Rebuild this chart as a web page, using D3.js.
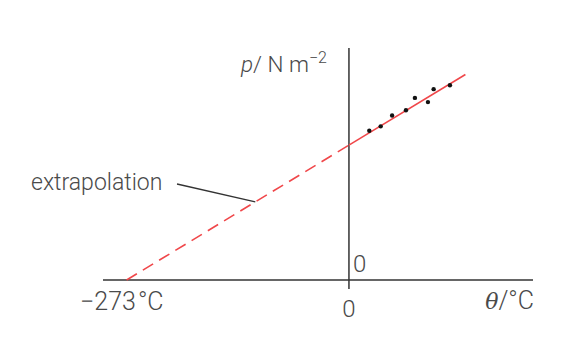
<!DOCTYPE html>
<html>
<head>
<meta charset="utf-8">
<script src="https://cdn.jsdelivr.net/npm/d3@7"></script>
<style>
  body { margin: 0; background: #fff; }
  text { font-family: Roboto, "Liberation Sans", sans-serif; font-weight: 300; fill: #4a4a4a; }
</style>
</head>
<body>
<div id="chart"></div>
<script>
// data : temperature (°C) and pressure (arbitrary units, p = 100 at 0 °C)
var theta = [25, 39, 53, 70, 81, 97, 104, 124];
var pressure = [110.6, 113.9, 122, 125.9, 135, 131.9, 141.5, 144.4];
var absZero = -273,
    p0 = 100,
    lineEnd = 143;

var width = 561,
    height = 344;

var x = d3.scaleLinear().domain([-302, 226]).range([103, 533]);
var y = d3.scaleLinear().domain([0, 172]).range([280, 48]);

function fit(t) { return p0 * (1 + t / 273); }

var svg = d3.select("#chart").append("svg")
  .attr("width", width)
  .attr("height", height);

// axes
svg.append("line")
  .attr("x1", x.range()[0]).attr("x2", x.range()[1])
  .attr("y1", y(0)).attr("y2", y(0))
  .attr("stroke", "#333").attr("stroke-width", 1.5);
svg.append("line")
  .attr("x1", x(0)).attr("x2", x(0))
  .attr("y1", y.range()[1]).attr("y2", y(0) + 9)
  .attr("stroke", "#333").attr("stroke-width", 1.5);

// extrapolated part (dashed)
svg.append("line")
  .attr("x1", x(absZero)).attr("y1", y(fit(absZero)))
  .attr("x2", x(0)).attr("y2", y(fit(0)))
  .attr("stroke", "#f0474a").attr("stroke-width", 1.6)
  .attr("stroke-dasharray", "12,7");

// measured part (solid)
svg.append("line")
  .attr("x1", x(0)).attr("y1", y(fit(0)))
  .attr("x2", x(lineEnd)).attr("y2", y(fit(lineEnd)))
  .attr("stroke", "#f0474a").attr("stroke-width", 1.6);

// points
svg.selectAll("circle")
  .data(theta).enter()
  .append("circle")
  .attr("cx", function(d) { return x(d); })
  .attr("cy", function(d, i) { return y(pressure[i]); })
  .attr("r", 2.2)
  .attr("fill", "#111");

// leader line for "extrapolation"
var tl = -115;
svg.append("line")
  .attr("x1", 177).attr("y1", 184)
  .attr("x2", x(tl)).attr("y2", y(fit(tl)))
  .attr("stroke", "#333").attr("stroke-width", 1.3);

// labels
svg.append("text").attr("x", 31).attr("y", 190)
  .style("font-size", "23px").text("extrapolation");

var zl = svg.append("text").attr("x", 80).attr("y", 310)
  .style("font-size", "25px");
zl.append("tspan").text("\u2212273");
zl.append("tspan").attr("dx", 2).text("°C");

svg.append("text").attr("x", x(0)).attr("y", 317)
  .attr("text-anchor", "middle")
  .style("font-size", "24px").text("0");

svg.append("text").attr("x", x(0) + 4).attr("y", 272)
  .style("font-size", "24px").text("0");

var xl = svg.append("text").attr("x", 534).attr("y", 309)
  .attr("text-anchor", "end")
  .style("font-size", "25px");
xl.append("tspan").style("font-style", "italic").style("font-family", "'DejaVu Serif', serif").style("font-size", "22px").text("θ");
xl.append("tspan").text("/°C");

var yl = svg.append("text").attr("x", 241).attr("y", 72)
  .style("font-size", "22.5px");
yl.append("tspan").style("font-style", "italic").text("p");
yl.append("tspan").text("/ N m");
yl.append("tspan").attr("dy", -9).style("font-size", "16px").text("\u22122");
</script>
</body>
</html>
